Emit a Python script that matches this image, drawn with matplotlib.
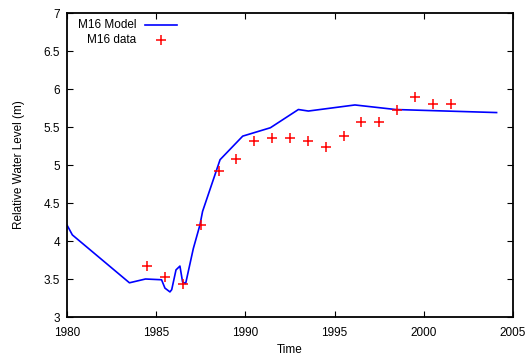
import matplotlib
matplotlib.use("Agg")
import matplotlib.pyplot as plt
from matplotlib.ticker import FormatStrFormatter, MultipleLocator

plt.rcParams['font.family'] = ['Liberation Sans', 'DejaVu Sans']

# Modelled water level (M16 model)
model_year = [1980.0, 1980.3, 1983.5, 1984.4, 1985.3, 1985.49, 1985.77, 1985.87,
              1986.11, 1986.33, 1986.48, 1986.65, 1987.08, 1987.45, 1987.6,
              1988.58, 1989.85, 1991.4, 1992.97, 1993.53, 1996.14, 1998.42, 2004.08]
model_level = [4.21, 4.08, 3.45, 3.50, 3.49, 3.38, 3.33, 3.36,
               3.62, 3.67, 3.46, 3.44, 3.90, 4.21, 4.39,
               5.07, 5.38, 5.49, 5.73, 5.71, 5.79, 5.73, 5.69]

# Observed water level (M16 data)
data_year = [1984.5, 1985.5, 1986.5, 1987.5, 1988.5, 1989.5, 1990.5, 1991.5, 1992.5,
             1993.5, 1994.5, 1995.5, 1996.5, 1997.5, 1998.5, 1999.5, 2000.5, 2001.5]
data_level = [3.67, 3.53, 3.43, 4.21, 4.92, 5.08, 5.32, 5.36, 5.36,
              5.32, 5.24, 5.38, 5.57, 5.57, 5.72, 5.89, 5.80, 5.80]

x_ticks = [1980, 1985, 1990, 1995, 2000, 2005]

fig = plt.figure(figsize=(5.31, 3.58), dpi=100)
ax = fig.add_axes([67 / 531, 1 - 317 / 358, 446 / 531, 304 / 358])

ax.plot(model_year, model_level, color='#0000ff', lw=1.2, solid_joinstyle='round')
ax.plot(data_year, data_level, ls='none', marker='+', color='#ff0000',
        markersize=7.5, markeredgewidth=1.1)

ax.set_xlim(1980, 2005)
ax.set_ylim(3, 7)
ax.set_xticks(x_ticks)
ax.yaxis.set_major_locator(MultipleLocator(0.5))
ax.yaxis.set_major_formatter(FormatStrFormatter('%g'))
ax.tick_params(direction='in', length=4, width=0.8, top=True, right=True,
               labelsize=8.5, colors='black')
ax.tick_params(axis='x', pad=7)
ax.tick_params(axis='y', pad=5)
for s in ax.spines.values():
    s.set_linewidth(1.3)

ax.set_xlabel('Time', fontsize=8.5, labelpad=4)
ax.set_ylabel('Relative Water Level (m)', fontsize=8.5, labelpad=13)

# Key in the upper-left corner: right-aligned labels with samples after them
tr = ax.transAxes
key_rows = [(0.962, 'M16 Model'), (0.912, 'M16 data')]
text_x = 0.155
ax.text(text_x, key_rows[0][0], key_rows[0][1], transform=tr, ha='right', va='center', fontsize=8.5)
ax.text(text_x, key_rows[1][0], key_rows[1][1], transform=tr, ha='right', va='center', fontsize=8.5)
ax.plot([0.175, 0.247], [key_rows[0][0]] * 2, transform=tr, color='#0000ff', lw=1.2)
ax.plot([0.211], [key_rows[1][0]], transform=tr, ls='none', marker='+', color='#ff0000',
        markersize=7.5, markeredgewidth=1.1)

fig.savefig('out.png', dpi=100)
